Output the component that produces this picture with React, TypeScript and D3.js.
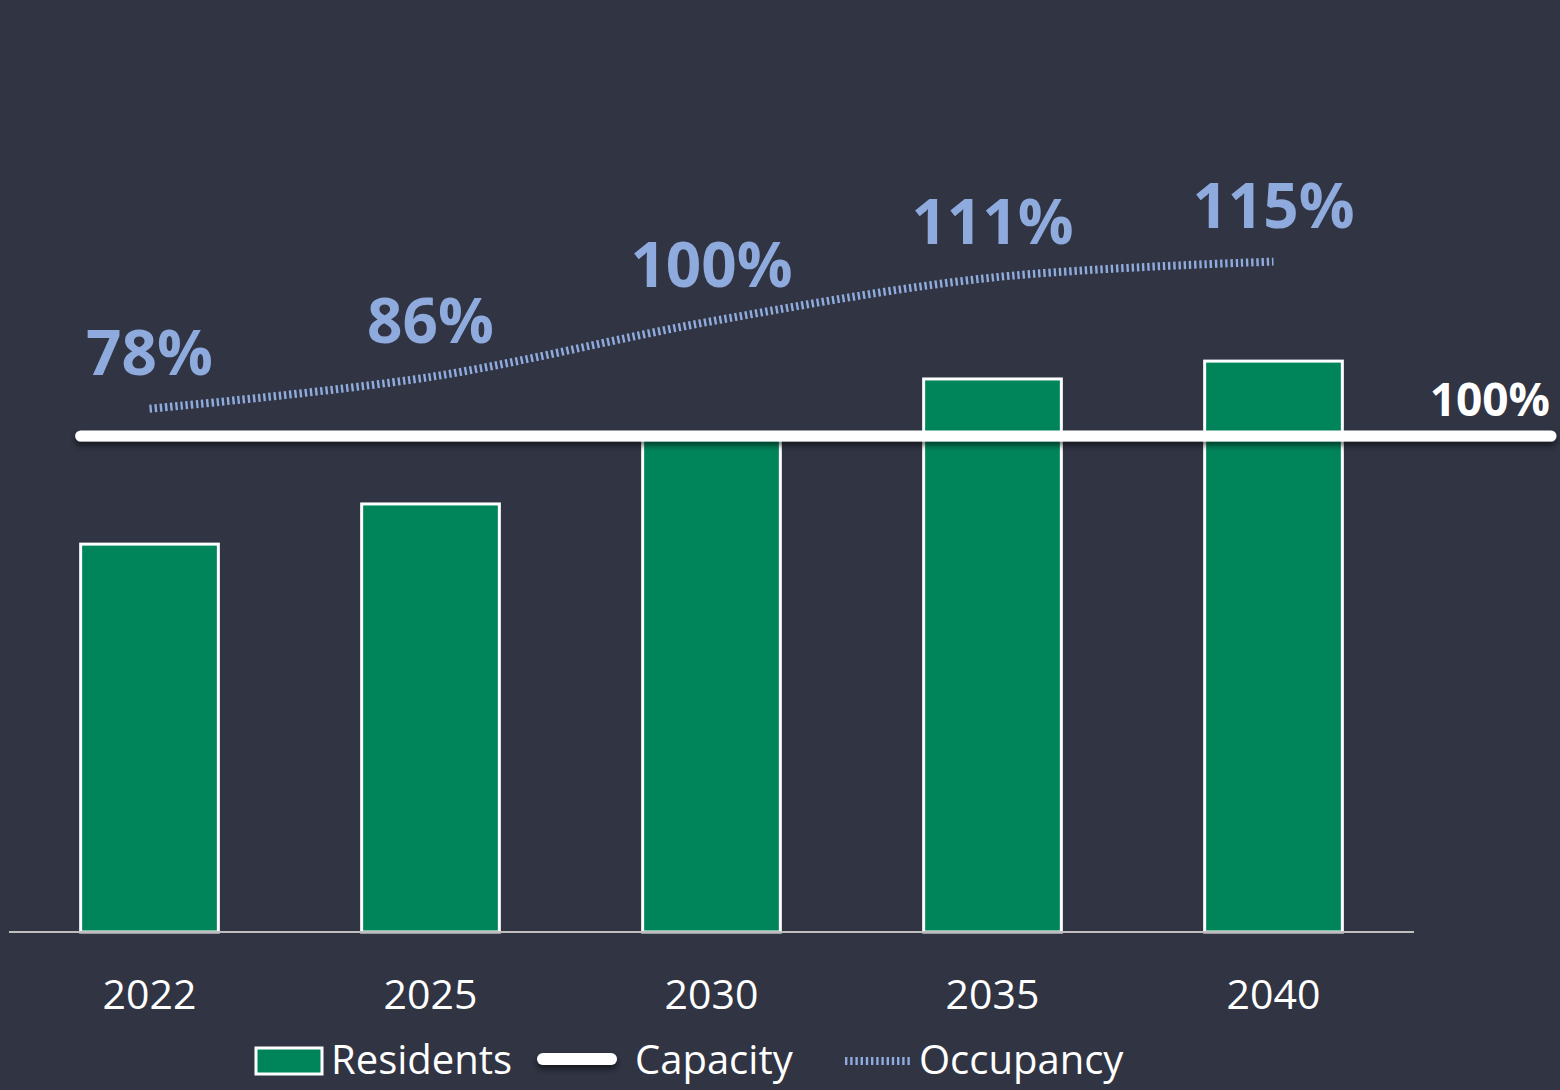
import React from "react";
import * as d3 from "d3";

// chart data
const years = ["2022", "2025", "2030", "2035", "2040"];
const residents = [782, 863, 1000, 1115, 1151];
const capacity = 1000;
const occupancy = [0.78, 0.86, 1.0, 1.11, 1.15];
const legendLabels = ["Residents", "Capacity", "Occupancy"];

const W = 1560;
const H = 1090;
const BG = "#303443";
const GREEN = "#00855A";
const BLUE = "#8FAADC";
const FONT = "'Open Sans', 'Segoe UI', sans-serif";

export default function App() {
  const margin = { left: 9, right: 146, bottom: 158 };

  const x = d3
    .scaleBand<string>()
    .domain(years)
    .range([margin.left, W - margin.right])
    .paddingInner(0.51)
    .paddingOuter(0.255);

  const y = d3.scaleLinear().domain([0, 1000]).range([H - margin.bottom, 436]);

  // secondary axis for occupancy line
  const y2 = d3.scaleLinear().domain([0.5, 1.3]).range([520, 202]);

  const cx = (d: string) => (x(d) ?? 0) + x.bandwidth() / 2;

  const occLine = d3
    .line<number>()
    .x((_, i) => cx(years[i]))
    .y((d) => y2(d))
    .curve(d3.curveCatmullRom.alpha(0.5));

  const capX0 = x(years[0]) ?? 0;
  const capX1 = W - 9;
  const pct = d3.format(".0%");

  return (
    <svg
      width={W}
      height={H}
      style={{ position: "absolute", left: 0, top: 0, display: "block" }}
      fontFamily={FONT}
    >
      <defs>
        <filter id="shadow" filterUnits="userSpaceOnUse" x={0} y={0} width={W} height={H}>
          <feDropShadow dx="0" dy="4" stdDeviation="3" floodColor="#000" floodOpacity="0.55" />
        </filter>
      </defs>
      <rect width={W} height={H} fill={BG} />

      {/* bars */}
      {years.map((yr, i) => (
        <rect
          key={yr}
          x={x(yr)}
          y={y(residents[i])}
          width={x.bandwidth()}
          height={y(0) - y(residents[i])}
          fill={GREEN}
          stroke="#fff"
          strokeWidth={3}
        />
      ))}

      {/* baseline */}
      <line
        x1={margin.left}
        x2={W - margin.right}
        y1={y(0)}
        y2={y(0)}
        stroke="#BFBFBF"
        strokeWidth={2}
      />

      {/* capacity line */}
      <line
        x1={capX0}
        x2={capX1}
        y1={y(capacity)}
        y2={y(capacity)}
        stroke="#fff"
        strokeWidth={11}
        strokeLinecap="round"
        filter="url(#shadow)"
      />
      <text
        x={capX1 - 1}
        y={y(capacity) - 20}
        textAnchor="end"
        fill="#fff"
        fontWeight={700}
        fontSize={46}
      >
        {pct(capacity / 1000)}
      </text>

      {/* occupancy line */}
      <path
        d={occLine(occupancy) ?? ""}
        fill="none"
        stroke={BLUE}
        strokeWidth={8}
        strokeDasharray="2.4 2.8"
      />
      {occupancy.map((v, i) => (
        <text
          key={years[i]}
          x={cx(years[i])}
          y={y2(v) - 34}
          textAnchor="middle"
          fill={BLUE}
          fontWeight={700}
          fontSize={62}
        >
          {pct(v)}
        </text>
      ))}

      {/* x tick labels */}
      {years.map((yr) => (
        <text
          key={yr}
          x={cx(yr)}
          y={y(0) + 77}
          textAnchor="middle"
          fill="#fff"
          fontSize={41}
        >
          {yr}
        </text>
      ))}

      {/* legend */}
      <g fontSize={40} fill="#fff">
        <rect x={256} y={1048} width={66} height={26} fill={GREEN} stroke="#fff" strokeWidth={3} />
        <text x={331} y={1074}>{legendLabels[0]}</text>
        <line
          x1={543}
          x2={611}
          y1={1059}
          y2={1059}
          stroke="#fff"
          strokeWidth={12}
          strokeLinecap="round"
          filter="url(#shadow)"
        />
        <text x={635} y={1074}>{legendLabels[1]}</text>
        <line
          x1={845}
          x2={911}
          y1={1061}
          y2={1061}
          stroke={BLUE}
          strokeWidth={8}
          strokeDasharray="2.4 2.8"
        />
        <text x={919} y={1074}>{legendLabels[2]}</text>
      </g>
    </svg>
  );
}
